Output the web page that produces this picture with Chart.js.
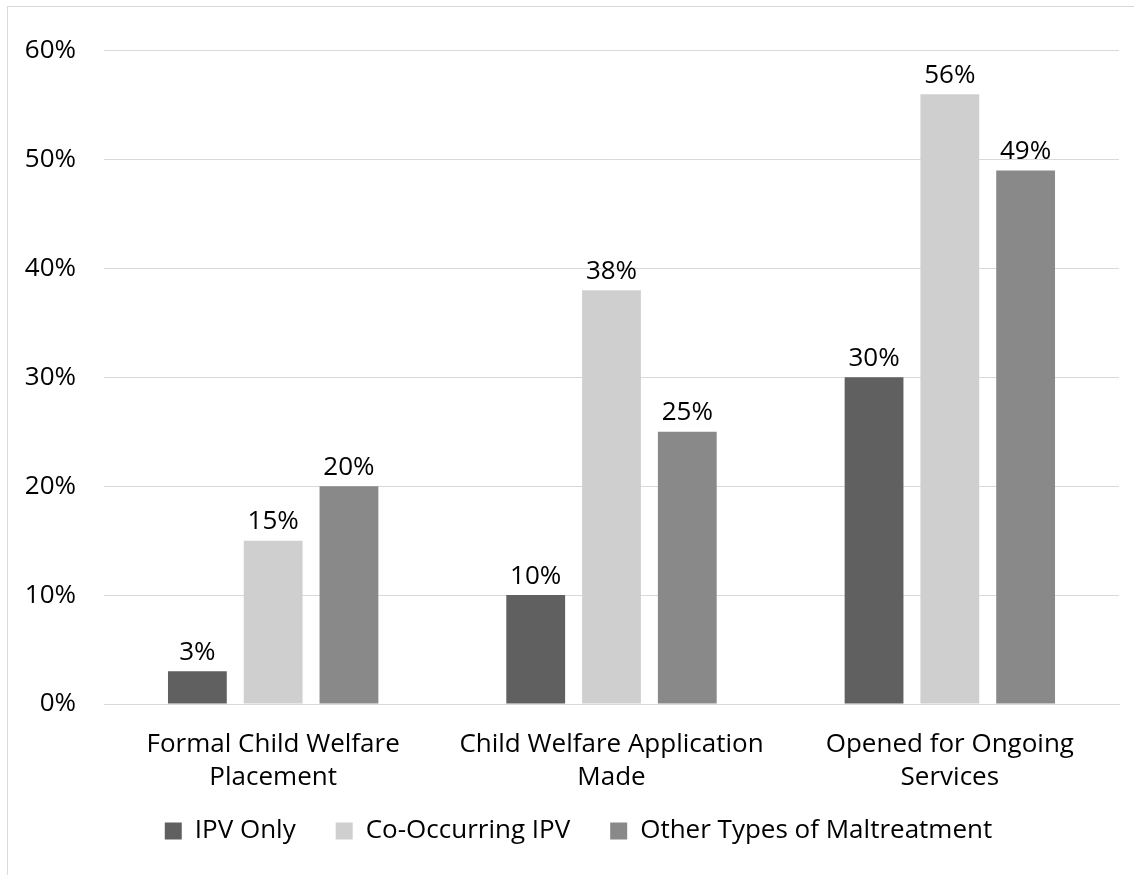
<!DOCTYPE html>
<html>
<head>
<meta charset="utf-8">
<script src="https://cdn.jsdelivr.net/npm/chart.js@4"></script>
<style>
  body { margin: 0; background: #fff; }
  .frame {
    position: absolute; left: 7px; top: 6px; width: 1127px; height: 869px;
    border-top: 1px solid #d9d9d9; border-left: 1px solid #d9d9d9;
  }
  canvas { display: block; }
</style>
</head>
<body>
<div class="frame"><canvas id="chart" width="1126" height="868"></canvas></div>
<script>
const categories = [
  ["Formal Child Welfare", "Placement"],
  ["Child Welfare Application", "Made"],
  ["Opened for Ongoing", "Services"],
];
const ipvOnly = [3, 10, 30];
const coOccurring = [15, 38, 56];
const otherTypes = [20, 25, 49];
const yTicks = [0, 10, 20, 30, 40, 50, 60];

const font = "'Open Sans', sans-serif";
const textColor = "#000";

// draws the value above each bar
const barLabels = {
  id: "barLabels",
  afterDatasetsDraw(chart) {
    const ctx = chart.ctx;
    ctx.save();
    ctx.font = "26px " + font;
    ctx.fillStyle = textColor;
    ctx.textAlign = "center";
    ctx.textBaseline = "bottom";
    chart.data.datasets.forEach((ds, i) => {
      chart.getDatasetMeta(i).data.forEach((bar, j) => {
        ctx.fillText(ds.data[j] + "%", bar.x, bar.y - 6);
      });
    });
    ctx.restore();
  },
};

// axis labels may run past their boxes (into padding / legend space),
// so widen the scales' clip areas after layout
const labelRoom = {
  id: "labelRoom",
  afterLayout(chart) {
    const x = chart.scales.x;
    x.bottom = x.top + 100;
    chart.scales.y.left = 0;
  },
};

new Chart(document.getElementById("chart"), {
  type: "bar",
  data: {
    labels: categories,
    datasets: [
      { label: "IPV Only", data: ipvOnly, backgroundColor: "#606060" },
      { label: "Co-Occurring IPV", data: coOccurring, backgroundColor: "#d0cfcf" },
      { label: "Other Types of Maltreatment", data: otherTypes, backgroundColor: "#898989" },
    ],
  },
  options: {
    responsive: false,
    animation: false,
    layout: { padding: { top: 31, right: 15, bottom: 21, left: 30 } },
    datasets: {
      bar: { categoryPercentage: 0.672, barPercentage: 0.776 },
    },
    plugins: {
      legend: {
        position: "bottom",
        labels: {
          font: { family: font, size: 26 },
          color: textColor,
          boxWidth: 17,
          boxHeight: 17,
          padding: 40,
        },
      },
      tooltip: { enabled: false },
    },
    scales: {
      x: {
        grid: { display: false },
        border: { color: "#d9d9d9" },
        afterFit(scale) {
          scale.height = 74;
        },
        ticks: {
          font: { family: font, size: 26, lineHeight: 1.27 },
          color: textColor,
          padding: 16,
          maxRotation: 0,
        },
      },
      y: {
        min: 0,
        max: 60,
        afterBuildTicks(scale) {
          scale.ticks = yTicks.map((v) => ({ value: v }));
        },
        afterFit(scale) {
          scale.width = 66;
        },
        grid: { color: "#d9d9d9", drawTicks: false },
        border: { display: false },
        ticks: {
          font: { family: font, size: 26 },
          color: textColor,
          padding: 28,
          callback: (v) => v + "%",
        },
      },
    },
  },
  plugins: [barLabels, labelRoom],
});
</script>
</body>
</html>
